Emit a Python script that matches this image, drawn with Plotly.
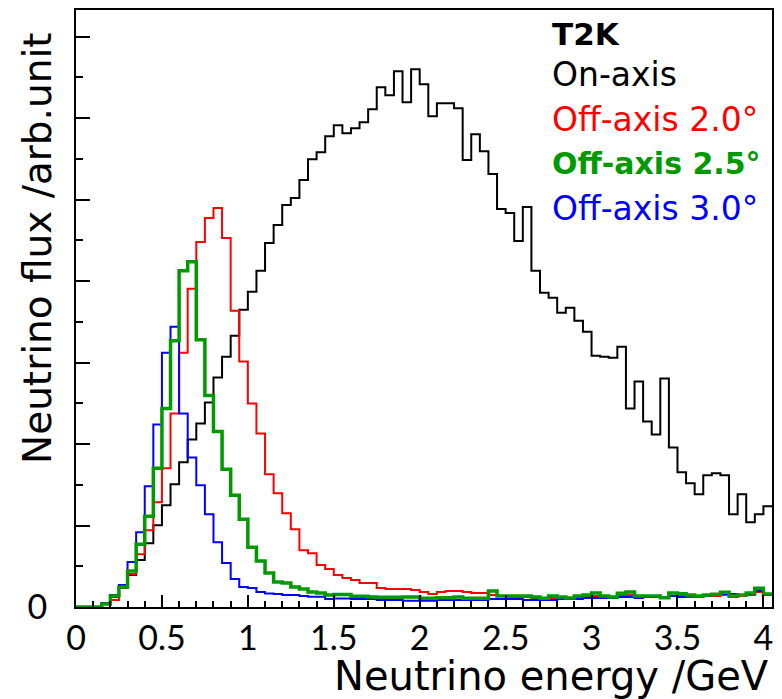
import numpy as np
import plotly.graph_objects as go

# ---------------- data (81 bins of 0.05 GeV, arbitrary flux units) ----------------
bin_width = 0.05
n_bins = 81

on_axis = [0, 0, 0, 4, 10, 20, 32, 47, 64, 82,
           102, 123, 145, 168, 184, 205, 230, 251, 272, 298,
           316, 337, 365, 383, 403, 410, 428, 449, 456, 472,
           483, 475, 480, 486, 499, 521, 513, 537, 506, 539,
           524, 492, 505, 505, 500, 448, 474, 457, 434, 399,
           395, 367, 401, 337, 315, 310, 295, 300, 287, 276,
           252, 251, 250, 261, 199, 226, 186, 173, 229, 160,
           135, 124, 113, 132, 134, 132, 93, 113, 85, 93,
           101]

off_axis_20 = [0, 0, 0, 3, 7, 19, 33, 53, 77, 105,
               139, 194, 255, 319, 366, 390, 400, 370, 297, 246,
               204, 174, 133, 114, 94, 78, 57, 54, 42, 38,
               32, 29, 27, 24, 24, 19, 18, 18, 18, 17,
               15, 13, 15, 16, 16, 15, 14, 14, 12, 11,
               10, 10, 10, 9, 8, 9, 9, 8, 9, 10,
               11, 10, 9, 11, 12, 10, 10, 10, 9, 11,
               11, 10, 10, 11, 11, 12, 10, 11, 12, 15,
               12]

off_axis_25 = [0, 0, 0, 3, 11, 20, 36, 63, 91, 139,
               199, 267, 337, 346, 268, 212, 176, 138, 112, 88,
               60, 46, 34, 25, 24, 20, 18, 15, 14, 12,
               12.5, 12.5, 10.7, 10.7, 10, 9.7, 9.7, 9.7, 10, 10,
               8.7, 8.7, 9.3, 9.3, 10, 8.7, 8.7, 8.7, 16, 11,
               11, 11, 11, 10, 8.7, 11, 10, 9, 11, 12,
               14, 11, 10, 13.7, 15, 11, 11, 11, 9.3, 14,
               13.3, 12, 11, 12, 12.7, 14.7, 11, 12, 14, 18.7,
               13]

off_axis_30 = [0, 0, 0, 4, 12, 22, 45, 75, 121, 183,
               255, 281, 194, 150, 122, 93, 65, 44, 28, 20,
               19, 15, 13.5, 13, 12, 12, 11, 10.3, 10.3, 8,
               8.5, 8.5, 8, 8, 8, 7, 7, 7, 6.3, 6.3,
               6.3, 6.3, 7, 7, 7, 7, 7, 7, 8, 8,
               8, 8, 7, 7, 7, 7, 8, 8, 8, 9,
               9, 9, 9, 10, 10, 9, 10, 10, 10, 11,
               10, 11, 11, 11, 12, 13, 13, 12, 13, 16,
               12]

x_tick_vals = [0, 0.5, 1, 1.5, 2, 2.5, 3, 3.5, 4]
x_tick_text = ["0", "0.5", "1", "1.5", "2", "2.5", "3", "3.5", "4"]
y_major = 81.7          # one major y tick in flux units
y_max = 598.5
x_max = 4.05

legend_entries = [
    ("<b>T2K</b>", "black", 31),
    ("On-axis", "black", 33),
    ("Off-axis 2.0°", "red", 33),
    ("<b>Off-axis 2.5°</b>", "#009900", 30),
    ("Off-axis 3.0°", "blue", 33),
]

# ---------------- figure ----------------
edges = np.round(np.arange(n_bins + 1) * bin_width, 4)

def step(vals):
    return list(edges), list(vals) + [vals[-1]]

TICKFONT = "Lato"
TEXTFONT = "DejaVu Sans"
fig = go.Figure()
series = [
    (on_axis, "black", 2),
    (off_axis_20, "red", 2),
    (off_axis_30, "blue", 2),
    (off_axis_25, "#009900", 3.5),
]
for vals, col, w in series:
    xs, ys = step(vals)
    fig.add_trace(go.Scatter(x=xs, y=ys, mode="lines", line=dict(color=col, width=w, shape="hv"),
                             showlegend=False, hoverinfo="skip"))

y_tick_vals = [y_major * i for i in range(8)]
y_tick_text = ["0"] + [""] * 7

fig.update_layout(
    width=782, height=699,
    margin=dict(l=76, r=8, t=8, b=92),
    paper_bgcolor="white", plot_bgcolor="white",
    font=dict(family=TICKFONT, color="black"),
    xaxis=dict(range=[0, x_max], showgrid=False, zeroline=False,
               showline=True, linecolor="black", linewidth=2, mirror=True,
               tickmode="array", tickvals=x_tick_vals, ticktext=x_tick_text,
               ticks="inside", ticklen=12, tickwidth=2, tickcolor="black",
               minor=dict(tickmode="linear", tick0=0, dtick=0.1, ticks="inside",
                          ticklen=6, tickwidth=2, tickcolor="black"),
               tickfont=dict(size=34, family=TICKFONT)),
    yaxis=dict(range=[0, y_max], showgrid=False, zeroline=False,
               showline=True, linecolor="black", linewidth=2, mirror=True,
               tickmode="array", tickvals=y_tick_vals, ticktext=y_tick_text,
               ticks="inside", ticklen=14, tickwidth=2, tickcolor="black",
               minor=dict(tickmode="linear", tick0=0, dtick=y_major / 2, ticks="inside",
                          ticklen=7, tickwidth=2, tickcolor="black"),
               tickfont=dict(size=34, family=TICKFONT), ticklabelstandoff=20),
)

# axis titles (ROOT style, aligned to the axis end)
fig.add_annotation(text="Neutrino energy /GeV", xref="paper", yref="paper",
                   x=(773 - 76) / 698, y=(607 - 676) / 599, xanchor="right", yanchor="middle",
                   showarrow=False, font=dict(size=40, family=TEXTFONT))
fig.add_annotation(text="Neutrino flux /arb.unit", xref="paper", yref="paper",
                   x=(38 - 76) / 698, y=(607 - 28) / 599, xanchor="center", yanchor="top",
                   textangle=-90, showarrow=False, font=dict(size=39, family=TEXTFONT))

legend_y_px = [32, 73, 118, 162, 207]
for (txt, col, fs), py in zip(legend_entries, legend_y_px):
    fig.add_annotation(text=txt, xref="paper", yref="paper",
                       x=(551.7 - 76) / 698, y=(607 - py) / 599, xanchor="left", yanchor="middle",
                       showarrow=False, font=dict(size=fs, family=TEXTFONT, color=col))

fig.write_html("out.html")
